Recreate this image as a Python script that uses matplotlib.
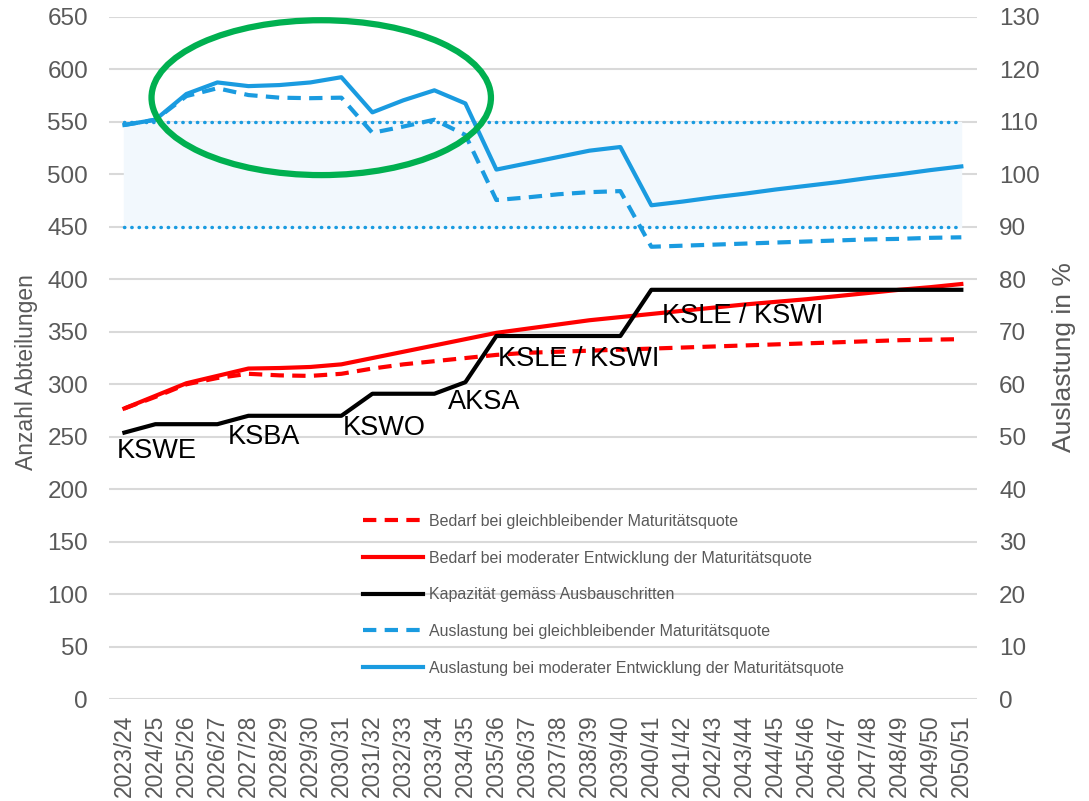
import matplotlib
matplotlib.use("Agg")
import matplotlib.pyplot as plt
from matplotlib.patches import Ellipse

plt.rcParams['font.family'] = ['Liberation Sans', 'DejaVu Sans']

years = ["2023/24", "2024/25", "2025/26", "2026/27", "2027/28", "2028/29", "2029/30",
         "2030/31", "2031/32", "2032/33", "2033/34", "2034/35", "2035/36", "2036/37",
         "2037/38", "2038/39", "2039/40", "2040/41", "2041/42", "2042/43", "2043/44",
         "2044/45", "2045/46", "2046/47", "2047/48", "2048/49", "2049/50", "2050/51"]

bedarf_gleich = [277, 288, 300, 306, 310, 308.5, 308, 310, 315, 319, 322, 325, 328, 330,
                 331, 332, 333, 334, 335, 336, 337, 338, 339, 340, 341, 342, 342.5, 343]
bedarf_moderat = [277, 289, 301, 308, 315, 315.5, 316.5, 319, 325, 331, 337, 343, 349, 353,
                  357, 361, 364, 367, 370, 373, 376, 378.5, 381, 384, 387, 390, 392.5, 395.5]
kapazitaet = [254, 262, 262, 262, 270, 270, 270, 270, 291, 291, 291, 302, 346, 346,
              346, 346, 346, 390, 390, 390, 390, 390, 390, 390, 390, 390, 390, 390]
ausl_gleich = [109.4, 110.4, 114.9, 116.4, 115.1, 114.6, 114.5, 114.6, 107.9, 109.1, 110.4,
               107.5, 95.1, 95.6, 96.2, 96.6, 96.8, 86.2, 86.4, 86.6, 86.8, 87.0, 87.2,
               87.4, 87.6, 87.7, 87.9, 88.0]
ausl_moderat = [109.4, 110.4, 115.3, 117.5, 116.8, 117.0, 117.5, 118.5, 111.8, 114.1, 116.0,
                113.5, 100.9, 102.1, 103.3, 104.5, 105.2, 94.1, 94.8, 95.6, 96.3, 97.1, 97.8,
                98.5, 99.3, 100.0, 100.8, 101.5]

band_low, band_high = 90, 110

labels = ["KSWE", "KSBA", "KSWO", "AKSA", "KSLE / KSWI", "KSLE / KSWI"]
label_x = [-0.25, 3.35, 7.05, 10.45, 12.05, 17.35]
label_y = [236, 250, 258, 283, 324, 365]

legend_labels = ["Bedarf bei gleichbleibender Maturitätsquote",
                 "Bedarf bei moderater Entwicklung der Maturitätsquote",
                 "Kapazität gemäss Ausbauschritten",
                 "Auslastung bei gleichbleibender Maturitätsquote",
                 "Auslastung bei moderater Entwicklung der Maturitätsquote"]

RED = "#FF0000"
BLUE = "#1A9BE0"
GRAY = "#595959"
GRID = "#D9D9D9"

fig = plt.figure(figsize=(10.89, 8.01), dpi=100)
ax = fig.add_axes([0.100, 0.127, 0.797, 0.852])
ax2 = ax.twinx()

x = list(range(len(years)))
lw = 3.0

ax.set_ylim(0, 650)
ax.set_yticks(range(0, 651, 50))
ax.set_xlim(-0.5, len(years) - 0.5)
ax.set_xticks(x)
ax.set_xticklabels(years, rotation=90, fontsize=16.5, color=GRAY)
ax.grid(axis='y', color=GRID, lw=1.5)
ax.set_axisbelow(True)
for s in ax.spines.values():
    s.set_visible(False)
for s in ax2.spines.values():
    s.set_visible(False)
ax.tick_params(axis='y', length=0, labelsize=17.5, labelcolor=GRAY, pad=15)
ax.tick_params(axis='x', length=0, labelcolor=GRAY, pad=11)

l1, = ax.plot(x, bedarf_gleich, color=RED, lw=lw, ls=(0, (3.2, 2.0)), label=legend_labels[0])
l2, = ax.plot(x, bedarf_moderat, color=RED, lw=lw, label=legend_labels[1])
l3, = ax.plot(x, kapazitaet, color="black", lw=lw, label=legend_labels[2])

ax2.set_ylim(0, 130)
ax2.set_yticks(range(0, 131, 10))
ax2.tick_params(axis='y', length=0, labelsize=17.5, labelcolor=GRAY, pad=16)

fig.text(0.024, 0.536, "Anzahl Abteilungen", rotation=90, ha='center', va='center',
         fontsize=16.5, color=GRAY)
fig.text(0.977, 0.554, "Auslastung in %", rotation=90, ha='center', va='center',
         fontsize=19, color=GRAY)

ax2.fill_between([x[0], x[-1]], band_low, band_high, color="#F2F8FD", zorder=0)
ax2.plot([x[0], x[-1]], [band_high, band_high], color=BLUE, lw=2.5, ls=(0, (0.1, 2.0)),
         dash_capstyle='round')
ax2.plot([x[0], x[-1]], [band_low, band_low], color=BLUE, lw=2.5, ls=(0, (0.1, 2.0)),
         dash_capstyle='round')
l4, = ax2.plot(x, ausl_gleich, color=BLUE, lw=lw, ls=(0, (3.2, 2.0)), label=legend_labels[3])
l5, = ax2.plot(x, ausl_moderat, color=BLUE, lw=lw, label=legend_labels[4])

for t, tx, ty in zip(labels, label_x, label_y):
    ax.text(tx, ty, t, fontsize=19.5, color="black", ha='left', va='center')

ell = Ellipse((6.35, 114.6), width=10.95, height=29.5, fill=False, edgecolor="#00B050",
              lw=4.5, transform=ax2.transData, zorder=5)
ax2.add_patch(ell)

leg = ax2.legend(handles=[l1, l2, l3, l4, l5], loc='upper left',
                 bbox_to_anchor=(0.285, 0.281), frameon=False, fontsize=11.5,
                 handlelength=3.8, handletextpad=0.37, labelspacing=1.36, borderaxespad=0)
for t in leg.get_texts():
    t.set_color(GRAY)

fig.savefig("out.png", dpi=100)
